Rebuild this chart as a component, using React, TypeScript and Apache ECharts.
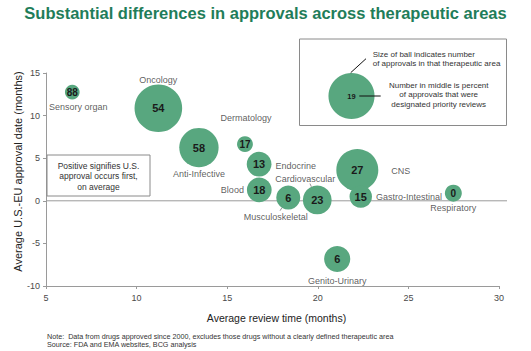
import { useEffect, useRef } from "react";
import * as echarts from "echarts";

// ---- data ----
const categories = [
  "Sensory organ",
  "Oncology",
  "Anti-Infective",
  "Dermatology",
  "Endocrine",
  "Blood",
  "Musculoskeletal",
  "Cardiovascular",
  "CNS",
  "Gastro-Intestinal",
  "Respiratory",
  "Genito-Urinary",
];
// Average review time (months)
const reviewTime = [6.45, 11.2, 13.44, 15.98, 16.76, 16.77, 18.37, 19.97, 22.18, 22.37, 27.48, 21.07];
// Average U.S.-EU approval date difference (months)
const approvalGap = [12.76, 10.86, 6.25, 6.65, 4.3, 1.28, 0.38, 0.1, 3.62, 0.49, 0.89, -6.83];
// Number of approvals (ball size)
const approvals = [6, 63, 43, 7, 17, 17, 16, 23, 49, 14, 8, 19];
// Percent of approvals designated priority reviews (number in ball)
const priorityPct = [88, 54, 58, 17, 13, 18, 6, 23, 27, 15, 0, 6];

const xTicks = [5, 10, 15, 20, 25, 30];
const yTicks = [-10, -5, 0, 5, 10, 15];

const legendApprovals = 59;
const legendPct = 19;

const titleText = "Substantial differences in approvals across therapeutic areas";
const xAxisTitle = "Average review time (months)";
const yAxisTitle = "Average U.S.-EU approval date (months)";
const noteLines = [
  "Note:  Data from drugs approved since 2000, excludes those drugs without a clearly defined therapeutic area",
  "Source: FDA and EMA websites, BCG analysis",
];
const boxNote = "Positive signifies U.S.\napproval occurs first,\non average";
const legendText1 = "Size of ball indicates number\nof approvals in that therapeutic area";
const legendText2 = "Number in middle is percent\nof approvals that were\ndesignated priority reviews";

// ---- label placement (style, not data) ----
type Placement = {
  position: string;
  distance: number;
  offset?: [number, number];
  leader?: { angle: number; len: number };
};
const placement: Record<string, Placement> = {
  "Sensory organ": { position: "bottom", distance: 3, offset: [6, 0] },
  Oncology: { position: "top", distance: 0, offset: [0, 0] },
  "Anti-Infective": { position: "bottom", distance: 2, offset: [0, 0] },
  Dermatology: { position: "top", distance: 14, offset: [1, 0] },
  Endocrine: { position: "right", distance: 4, offset: [0, 1.5] },
  Blood: { position: "left", distance: 3, offset: [0, 0.5] },
  Musculoskeletal: { position: "bottom", distance: 3, offset: [-12.5, 0], leader: { angle: 122, len: 3.5 } },
  Cardiovascular: { position: "top", distance: 2, offset: [-12, 0], leader: { angle: -114, len: 3.5 } },
  CNS: { position: "right", distance: 13, offset: [0, 1] },
  "Gastro-Intestinal": { position: "right", distance: 4, offset: [0, 0] },
  Respiratory: { position: "bottom", distance: 2, offset: [0, 0] },
  "Genito-Urinary": { position: "bottom", distance: 4, offset: [0, 0] },
};

const FONT = "'Liberation Sans', Arial, Helvetica, sans-serif";
const BUBBLE = "#58a77f";
const AXIS = "#9a9a9a";
const TEXT = "#333333";
const GREEN_TITLE = "#1f7d5a";

const sizeOf = (n: number) => 6 * Math.sqrt(n);

export default function App() {
  const ref = useRef<HTMLDivElement>(null);

  useEffect(() => {
    const chart = echarts.init(ref.current!, null, { renderer: "svg" });

    const bubbleData = categories.map((name, i) => ({
      name,
      value: [reviewTime[i], approvalGap[i], approvals[i], priorityPct[i]],
      label: { fontSize: sizeOf(approvals[i]) < 18 ? 10 : 11 },
    }));

    const nameData = categories.map((name, i) => {
      const p = placement[name];
      return {
        name,
        value: [reviewTime[i], approvalGap[i], approvals[i], priorityPct[i]],
        label: {
          position: p.position,
          distance: p.distance,
          offset: p.offset || [0, 0],
        },
      };
    });

    chart.setOption({
      animation: false,
      grid: { left: 46, right: 32, top: 73, bottom: 65 },
      xAxis: {
        type: "value",
        min: xTicks[0],
        max: xTicks[xTicks.length - 1],
        interval: xTicks[1] - xTicks[0],
        axisLine: { onZero: false, lineStyle: { color: AXIS, width: 1 } },
        axisTick: { show: true, length: 3, lineStyle: { color: AXIS } },
        axisLabel: { color: "#4a4a4a", fontSize: 9, fontFamily: FONT, margin: 7 },
        splitLine: { show: false },
      },
      yAxis: {
        type: "value",
        min: yTicks[0],
        max: yTicks[yTicks.length - 1],
        interval: yTicks[1] - yTicks[0],
        axisLine: { show: true, onZero: false, lineStyle: { color: AXIS, width: 1 } },
        axisTick: { show: true, length: 3, lineStyle: { color: AXIS } },
        axisLabel: { color: "#4a4a4a", fontSize: 9, fontFamily: FONT, margin: 6 },
        splitLine: { show: false },
      },
      series: [
        {
          type: "scatter",
          name: "bubbles",
          data: bubbleData,
          symbol: "circle",
          symbolSize: (v: number[]) => sizeOf(v[2]),
          itemStyle: { color: BUBBLE, opacity: 1 },
          label: {
            show: true,
            position: "inside",
            formatter: (p: any) => String(p.value[3]),
            color: "#1a1a1a",
            fontWeight: "bold",
            fontFamily: FONT,
          },
          silent: true,
          z: 3,
        },
        {
          type: "scatter",
          name: "names",
          data: nameData,
          symbol: "circle",
          symbolSize: (v: number[]) => sizeOf(v[2]),
          itemStyle: { color: "rgba(0,0,0,0)" },
          label: {
            show: true,
            formatter: (p: any) => p.name,
            color: TEXT,
            fontSize: 9,
            fontFamily: FONT,
          },
          silent: true,
          z: 4,
        },
      ],
    });

    // pixel-based decorations derived from the chart's own scales
    const p0 = chart.convertToPixel({ gridIndex: 0 }, [xTicks[0], 0]) as number[];
    const pEnd = chart.convertToPixel({ gridIndex: 0 }, [xTicks[xTicks.length - 1], 0]) as number[];
    const yTop = (chart.convertToPixel({ gridIndex: 0 }, [xTicks[0], yTicks[yTicks.length - 1]]) as number[])[1];
    const yBot = (chart.convertToPixel({ gridIndex: 0 }, [xTicks[0], yTicks[0]]) as number[])[1];

    const leaders: any[] = [];
    categories.forEach((name, i) => {
      const p = placement[name];
      if (!p.leader) return;
      const c = chart.convertToPixel({ gridIndex: 0 }, [reviewTime[i], approvalGap[i]]) as number[];
      const r = sizeOf(approvals[i]) / 2;
      const a = (p.leader.angle * Math.PI) / 180;
      leaders.push({
        type: "line",
        shape: {
          x1: c[0] + Math.cos(a) * r,
          y1: c[1] + Math.sin(a) * r,
          x2: c[0] + Math.cos(a) * (r + p.leader.len),
          y2: c[1] + Math.sin(a) * (r + p.leader.len),
        },
        style: { stroke: "#777", lineWidth: 0.8 },
        silent: true,
        z: 5,
      });
    });

    const legR = sizeOf(legendApprovals) / 2;
    const legCx = 351.5;
    const legCy = 96;

    chart.setOption({
      graphic: [
        {
          type: "text",
          left: "center",
          top: 4,
          style: {
            text: titleText,
            fill: GREEN_TITLE,
            font: `bold 16.5px ${FONT}`,
          },
          silent: true,
        },
        {
          type: "line",
          shape: { x1: p0[0], y1: p0[1], x2: pEnd[0] + 8, y2: pEnd[1] },
          style: { stroke: AXIS, lineWidth: 1 },
          silent: true,
          z: 1,
        },
        ...leaders,
        {
          type: "text",
          x: (p0[0] + pEnd[0]) / 2 + 4,
          y: 318,
          style: {
            text: xAxisTitle,
            fill: "#222",
            font: `10.5px ${FONT}`,
            textAlign: "center",
            textVerticalAlign: "middle",
          },
          silent: true,
        },
        {
          type: "text",
          x: 18,
          y: (yTop + yBot) / 2 - 8,
          rotation: Math.PI / 2,
          style: {
            text: yAxisTitle,
            fill: "#222",
            font: `11px ${FONT}`,
            textAlign: "center",
            textVerticalAlign: "middle",
          },
          silent: true,
        },
        // positive-signifies box
        {
          type: "rect",
          shape: { x: 47, y: 155, width: 103, height: 41 },
          style: { fill: "#ffffff", stroke: "#8a8a8a", lineWidth: 1 },
          silent: true,
          z: 2,
        },
        {
          type: "text",
          x: 98.5,
          y: 176,
          style: {
            text: boxNote,
            fill: TEXT,
            font: `8.5px ${FONT}`,
            textAlign: "center",
            textVerticalAlign: "middle",
            lineHeight: 10.5,
          },
          silent: true,
          z: 3,
        },
        // legend box
        {
          type: "rect",
          shape: { x: 299.5, y: 39, width: 207, height: 86.5 },
          style: { fill: "#ffffff", stroke: "#8a8a8a", lineWidth: 1 },
          silent: true,
          z: 2,
        },
        {
          type: "circle",
          shape: { cx: legCx, cy: legCy, r: legR },
          style: { fill: BUBBLE },
          silent: true,
          z: 3,
        },
        {
          type: "text",
          x: legCx,
          y: legCy,
          style: {
            text: String(legendPct),
            fill: "#1a1a1a",
            font: `bold 7.5px ${FONT}`,
            textAlign: "center",
            textVerticalAlign: "middle",
          },
          silent: true,
          z: 4,
        },
        {
          type: "line",
          shape: { x1: 350.7, y1: 72.7, x2: 366, y2: 58.7 },
          style: { stroke: "#111", lineWidth: 1 },
          silent: true,
          z: 4,
        },
        {
          type: "line",
          shape: { x1: 359.3, y1: 96, x2: 380.7, y2: 96 },
          style: { stroke: "#111", lineWidth: 1 },
          silent: true,
          z: 4,
        },
        {
          type: "text",
          x: 372.7,
          y: 59,
          style: {
            text: legendText1,
            fill: TEXT,
            font: `8px ${FONT}`,
            textAlign: "left",
            textVerticalAlign: "middle",
            lineHeight: 9.7,
          },
          silent: true,
          z: 4,
        },
        {
          type: "text",
          x: 438.7,
          y: 94.5,
          style: {
            text: legendText2,
            fill: TEXT,
            font: `8px ${FONT}`,
            textAlign: "center",
            textVerticalAlign: "middle",
            lineHeight: 9.5,
          },
          silent: true,
          z: 4,
        },
        // notes
        {
          type: "text",
          x: 47,
          y: 336,
          style: {
            text: noteLines[0],
            fill: TEXT,
            font: `7.2px ${FONT}`,
            textAlign: "left",
            textVerticalAlign: "middle",
          },
          silent: true,
        },
        {
          type: "text",
          x: 47,
          y: 344,
          style: {
            text: noteLines[1],
            fill: TEXT,
            font: `7.2px ${FONT}`,
            textAlign: "left",
            textVerticalAlign: "middle",
          },
          silent: true,
        },
      ],
    });

    return () => {
      chart.dispose();
    };
  }, []);

  return (
    <div
      ref={ref}
      style={{ position: "fixed", left: 0, top: 0, width: 531, height: 351, background: "#fff" }}
    />
  );
}
